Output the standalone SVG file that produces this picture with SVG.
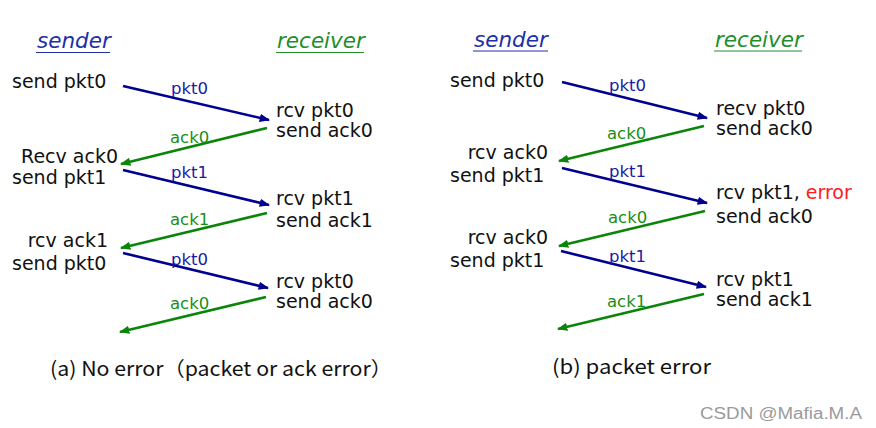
<svg xmlns="http://www.w3.org/2000/svg" width="876" height="428" viewBox="0 0 876 428">
<style>
.t{font-family:"DejaVu Sans",Verdana,sans-serif;font-size:19px;fill:#111}
.h{font-family:"DejaVu Sans",Verdana,sans-serif;font-size:21.5px;font-style:italic}
.hs{fill:#1f2fa8}
.hr{fill:#1f8f2a}
.lb{font-family:"DejaVu Sans",Verdana,sans-serif;font-size:16.5px;fill:#1a1aa6}
.lg{font-family:"DejaVu Sans",Verdana,sans-serif;font-size:16.5px;fill:#178f17}
.cap{font-family:"Noto Sans CJK SC","Noto Sans",sans-serif;font-size:20px;fill:#111}
.wm{font-family:"Liberation Sans",Arial,sans-serif;font-size:16px;fill:#9a9a9a}
.b{stroke:#00008f;stroke-width:2.6;fill:none;marker-end:url(#ab)}
.g{stroke:#0a850a;stroke-width:2.6;fill:none;marker-end:url(#ag)}
</style>
<defs>
<marker id="ab" viewBox="0 0 10 8" refX="9" refY="4" markerWidth="4" markerHeight="3.2" orient="auto" markerUnits="strokeWidth"><path d="M0,0 L10,4 L0,8 Z" fill="#00008f"/></marker>
<marker id="ag" viewBox="0 0 10 8" refX="9" refY="4" markerWidth="4" markerHeight="3.2" orient="auto" markerUnits="strokeWidth"><path d="M0,0 L10,4 L0,8 Z" fill="#0a850a"/></marker>
</defs>
<rect width="876" height="428" fill="#fff"/>

<g id="panel-a-headers">
<text class="h hs" x="37" y="48">sender</text>
<line x1="36" y1="52.5" x2="110" y2="52.5" stroke="#1f2fa8" stroke-width="1.2"/>
<text class="h hr" x="277" y="48">receiver</text>
<line x1="276" y1="52.5" x2="364" y2="52.5" stroke="#1f8f2a" stroke-width="1.2"/>
</g>
<g id="a-sender">
<text class="t" x="12" y="88">send pkt0</text>
<text class="t" x="118" y="163" text-anchor="end">Recv ack0</text>
<text class="t" x="12" y="184">send pkt1</text>
<text class="t" x="108" y="247" text-anchor="end">rcv ack1</text>
<text class="t" x="12" y="270">send pkt0</text>
</g>
<g id="a-receiver">
<text class="t" x="276" y="117">rcv pkt0</text>
<text class="t" x="276" y="137">send ack0</text>
<text class="t" x="276" y="205">rcv pkt1</text>
<text class="t" x="276" y="227">send ack1</text>
<text class="t" x="276" y="288">rcv pkt0</text>
<text class="t" x="276" y="308">send ack0</text>
</g>

<g id="panel-b-headers">
<text class="h hs" x="474" y="47">sender</text>
<line x1="473" y1="51" x2="548" y2="51" stroke="#1f2fa8" stroke-width="1.2"/>
<text class="h hr" x="715" y="47">receiver</text>
<line x1="714" y1="51" x2="802" y2="51" stroke="#1f8f2a" stroke-width="1.2"/>
</g>
<g id="b-sender">
<text class="t" x="450" y="87">send pkt0</text>
<text class="t" x="548" y="159" text-anchor="end">rcv ack0</text>
<text class="t" x="450" y="182">send pkt1</text>
<text class="t" x="548" y="244" text-anchor="end">rcv ack0</text>
<text class="t" x="450" y="267">send pkt1</text>
</g>
<g id="b-receiver">
<text class="t" x="716" y="115">recv pkt0</text>
<text class="t" x="716" y="135">send ack0</text>
<text class="t" x="716" y="199">rcv pkt1, <tspan fill="#ff1a1a">error</tspan></text>
<text class="t" x="716" y="223">send ack0</text>
<text class="t" x="716" y="286">rcv pkt1</text>
<text class="t" x="716" y="306">send ack1</text>
</g>

<g id="connectors">
<line class="b" x1="123" y1="86" x2="269" y2="120"/>
<line class="g" x1="267" y1="128" x2="121" y2="164"/>
<line class="b" x1="123" y1="170" x2="269" y2="205"/>
<line class="g" x1="267" y1="213" x2="121" y2="248"/>
<line class="b" x1="123" y1="253" x2="268" y2="288"/>
<line class="g" x1="266" y1="297" x2="120" y2="332"/>

<line class="b" x1="562" y1="82" x2="707" y2="118"/>
<line class="g" x1="704" y1="126" x2="559" y2="161"/>
<line class="b" x1="562" y1="168" x2="707" y2="203"/>
<line class="g" x1="705" y1="211" x2="559" y2="246"/>
<line class="b" x1="561" y1="251" x2="706" y2="287"/>
<line class="g" x1="704" y1="294" x2="558" y2="329"/>
</g>
<g id="connector-labels">
<text class="lb" x="171" y="94">pkt0</text>
<text class="lg" x="170" y="143">ack0</text>
<text class="lb" x="171" y="178">pkt1</text>
<text class="lg" x="170" y="225">ack1</text>
<text class="lb" x="171" y="265">pkt0</text>
<text class="lg" x="170" y="309">ack0</text>

<text class="lb" x="609" y="91">pkt0</text>
<text class="lg" x="607" y="139">ack0</text>
<text class="lb" x="609" y="177">pkt1</text>
<text class="lg" x="608" y="223">ack0</text>
<text class="lb" x="609" y="262">pkt1</text>
<text class="lg" x="607" y="307">ack1</text>
</g>

<g id="captions">
<text class="cap" x="50" y="376" textLength="342" lengthAdjust="spacingAndGlyphs">(a) No error（packet or ack error）</text>
<text class="cap" x="552" y="374" textLength="159" lengthAdjust="spacingAndGlyphs">(b) packet error</text>
<text class="wm" x="700" y="419" textLength="162" lengthAdjust="spacingAndGlyphs">CSDN @Mafia.M.A</text>
</g>
</svg>
